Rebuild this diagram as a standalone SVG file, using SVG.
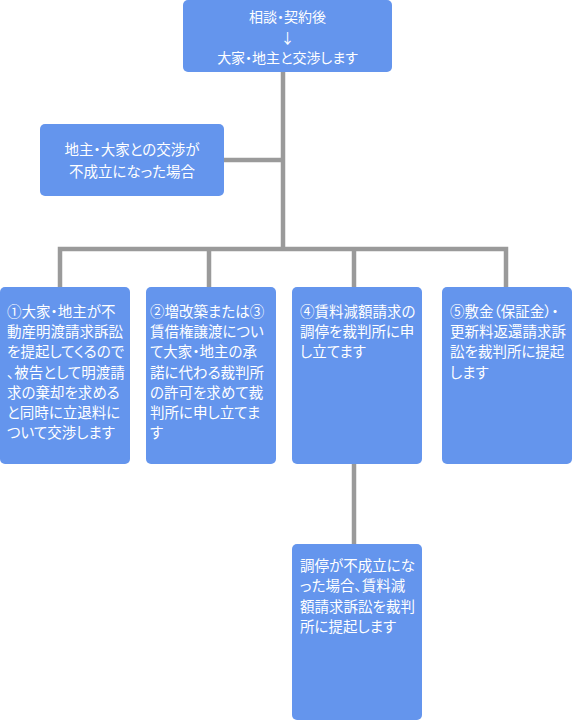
<svg xmlns="http://www.w3.org/2000/svg" width="573" height="721" viewBox="0 0 573 721">
<style>
.box{fill:#6495ed}
.t{fill:#ffffff;font-family:"Noto Sans CJK JP","Noto Sans",sans-serif;font-feature-settings:"palt"}
.c{text-anchor:middle;font-size:14px}
.b{font-size:14.5px}
.ln{stroke:#9a9a9a;stroke-width:4.5;fill:none}
</style>
<rect width="573" height="721" fill="#ffffff"/>
<g id="connectors">
<path class="ln" d="M283 72V249"/>
<path class="ln" d="M224 160H283"/>
<path class="ln" d="M60 287V249H506V287"/>
<path class="ln" d="M209 249V287"/>
<path class="ln" d="M354 249V287"/>
<path class="ln" d="M354 464V544"/>
</g>
<g id="n0">
<rect class="box" x="183" y="0" width="209" height="72" rx="5"/>
<text class="t c"><tspan x="287.5" y="22">相談・契約後</tspan><tspan x="287.5" y="43">↓</tspan><tspan x="287.5" y="63">大家・地主と交渉します</tspan></text>
</g>
<g id="n1">
<rect class="box" x="40" y="124" width="184" height="72" rx="5"/>
<text class="t c" style="font-size:14.5px"><tspan x="132" y="155">地主・大家との交渉が</tspan><tspan x="132" y="177">不成立になった場合</tspan></text>
</g>
<g id="n2">
<rect class="box" x="0" y="287" width="130" height="177" rx="5"/>
<text class="t b"><tspan x="7" y="317">①大家・地主が不</tspan><tspan x="7" y="337.2">動産明渡請求訴訟</tspan><tspan x="7" y="357.4">を提起してくるので</tspan><tspan x="7" y="377.6">、被告として明渡請</tspan><tspan x="7" y="397.8">求の棄却を求める</tspan><tspan x="7" y="418">と同時に立退料に</tspan><tspan x="7" y="438.2">ついて交渉します</tspan></text>
</g>
<g id="n3">
<rect class="box" x="146" y="287" width="130" height="177" rx="5"/>
<text class="t b"><tspan x="150" y="317">②増改築または③</tspan><tspan x="150" y="337.2">賃借権譲渡につい</tspan><tspan x="150" y="357.4">て大家・地主の承</tspan><tspan x="150" y="377.6">諾に代わる裁判所</tspan><tspan x="150" y="397.8">の許可を求めて裁</tspan><tspan x="150" y="418">判所に申し立てま</tspan><tspan x="150" y="438.2">す</tspan></text>
</g>
<g id="n4">
<rect class="box" x="292" y="287" width="130" height="177" rx="5"/>
<text class="t b"><tspan x="300" y="317">④賃料減額請求の</tspan><tspan x="300" y="337.2">調停を裁判所に申</tspan><tspan x="300" y="357.4">し立てます</tspan></text>
</g>
<g id="n5">
<rect class="box" x="442" y="287" width="130" height="177" rx="5"/>
<text class="t b"><tspan x="450" y="317">⑤敷金（保証金）・</tspan><tspan x="450" y="337.2">更新料返還請求訴</tspan><tspan x="450" y="357.4">訟を裁判所に提起</tspan><tspan x="450" y="377.6">します</tspan></text>
</g>
<g id="n6">
<rect class="box" x="292" y="544" width="130" height="176" rx="5"/>
<text class="t b"><tspan x="300" y="570.5">調停が不成立にな</tspan><tspan x="300" y="591">った場合、賃料減</tspan><tspan x="300" y="611.5">額請求訴訟を裁判</tspan><tspan x="300" y="632">所に提起します</tspan></text>
</g>
</svg>
